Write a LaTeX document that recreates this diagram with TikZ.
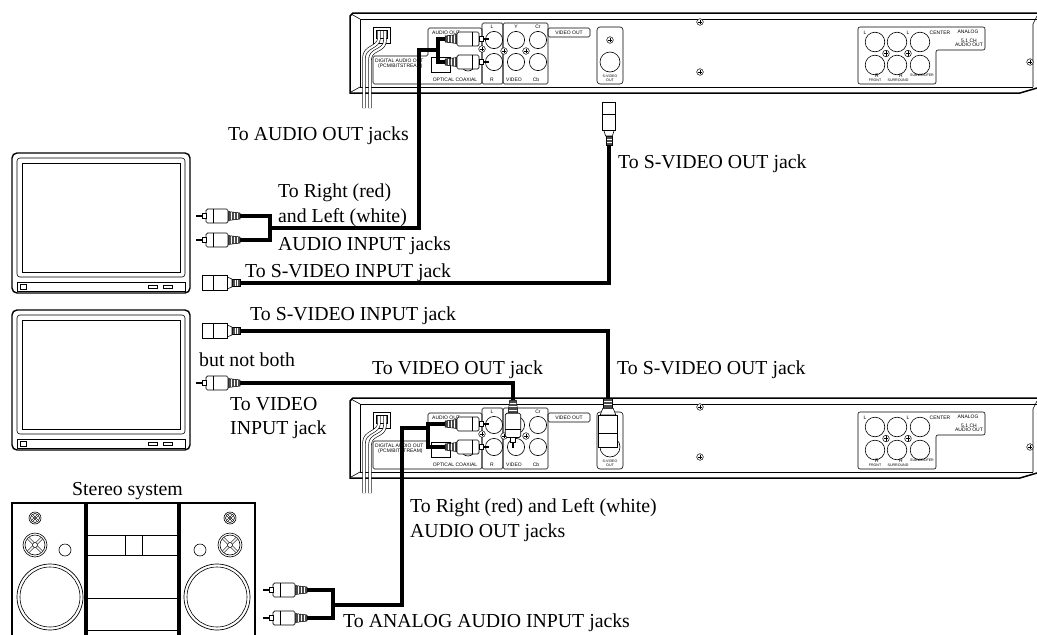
\documentclass[tikz,border=0pt]{standalone}
\usepackage{fontspec}
\setmainfont{Liberation Serif}
\newfontfamily\labfont{Liberation Sans}
\newcommand\drawplayer{%
  % body frame
  \draw[line width=1.5pt] (1037,13) -- (353,13) -- (350,16) -- (350,93) -- (1020,93) -- (1037,88);
  \draw[thinl] (1037,19) -- (360,19) -- (360,87) -- (1033,87);
  \draw[thinl] (351,14) -- (360,19) (351,92) -- (360,87);
  \draw[thinl] (1037,16) -- (1033,24) -- (1033,87);
  % power inlet and cord
  \draw[thinl] (373,27) rectangle (390,43);
  \draw[thinl] (376,30) rectangle (387,38);
  \draw[line width=0.6pt,double distance=2.2pt] (379,31) -- (379,38) .. controls (379,48) and (364,46) .. (364,58) -- (364,108);
  \draw[line width=0.6pt,double distance=2.2pt] (385,31) -- (385,40) .. controls (385,52) and (370,48) .. (370,60) -- (370,108);
  % digital / audio panel
  \draw[thinl,rounded corners=1.5] (373,56) -- (428,56) -- (428,28) -- (482,28) -- (482,84) -- (373,84) -- cycle;
  \draw[thinl] (431,57) rectangle (450,72);
  \draw[thinl] (468,64) circle (7);
  \node[lab,anchor=west] at (432,32.5) {AUDIO OUT};
  \node[lab,anchor=west] at (375,60.5) {DIGITAL AUDIO OUT};
  \node[lab,anchor=west] at (378,66) {(PCM/BITSTREAM)};
  \node[lab] at (455,80) {OPTICAL COAXIAL};
  % L/R and video panels
  \draw[thinl,rounded corners=1.5] (482,23) rectangle (503,84);
  \draw[thinl,rounded corners=1.5] (503,23) rectangle (548,84);
  \draw[thinl,rounded corners=1.5] (548,28) rectangle (590,37);
  \node[lab] at (569,32.5) {VIDEO OUT};
  \foreach \p in {(494,40),(494,62),(516,40),(538,40),(516,62),(538,62)} \draw[thinl] \p circle (8.6);
  \pic at (482,49) {screw}; \pic at (504,51) {screw}; \pic at (526,51) {screw};
  \node[lab] at (492,26.5) {L};
  \node[lab] at (516,26.5) {Y};
  \node[lab] at (538,26.5) {Cr};
  \node[lab] at (492,79.5) {R};
  \node[lab] at (514,79.5) {VIDEO};
  \node[lab] at (536,79.5) {Cb};
  % S-video
  \draw[thinl,rounded corners=3] (597,27) rectangle (623,84);
  \pic at (610,40) {screw};
  \draw[thinl] (610,62) circle (10);
  \node[tinylab] at (610,76.5) {S-VIDEO};
  \node[tinylab] at (610,79.8) {OUT};
  % panel screws
  \pic at (700,22) {screw}; \pic at (700,72) {screw}; \pic at (1030,62) {screw};
  % analog 5.1 panel
  \draw[thinl,rounded corners=2] (858,27) -- (985,27) -- (985,50) -- (936,50) -- (936,84) -- (858,84) -- cycle;
  \foreach \p in {(875,42),(897,42),(920,42),(875,65),(897,65),(920,65)} \draw[thinl] \p circle (9.8);
  \pic at (886,53.5) {screw}; \pic at (908,53.5) {screw};
  \node[lab] at (865,33) {L};
  \node[lab] at (908,33) {L};
  \node[lab] at (940,33) {CENTER};
  \node[lab] at (968,32) {ANALOG};
  \node[lab] at (969,40.5) {5.1 CH};
  \node[lab] at (969,45) {AUDIO OUT};
  \node[lab] at (877,75.5) {R};
  \node[lab] at (901,75.5) {R};
  \node[tinylab] at (875,80.5) {FRONT};
  \node[tinylab] at (898,80.5) {SURROUND};
  \node[tinylab] at (922,75.5) {SUBWOOFER};
}
\newcommand\drawtv{%
  \draw[line width=1.4pt,rounded corners=5] (12,153) rectangle (190,293);
  \draw[thinl,rounded corners=3] (17,158) rectangle (185,277);
  \draw[thinl] (22,163) rectangle (180,272);
  \draw[thinl] (17,282) rectangle (185,291);
  \draw[thinl] (20,284) rectangle (26,289);
  \draw[thinl] (148,285) rectangle (157,288);
  \draw[thinl] (163,285) rectangle (172,288);
}
\begin{document}
\begin{tikzpicture}[x=1pt,y=-1pt,line join=miter,
  cable/.style={line width=3.6pt},
  txt/.style={anchor=base west,inner sep=0pt,font=\fontsize{19.8}{22}\selectfont},
  lab/.style={inner sep=0pt,font=\labfont\fontsize{5}{5.5}\selectfont},
  tinylab/.style={inner sep=0pt,font=\labfont\fontsize{3.6}{3.8}\selectfont},
  thinl/.style={line width=0.6pt},
  screw/.pic={\draw[line width=0.5pt,fill=white] (0,0) circle (3.3);
              \draw[line width=0.6pt] (-2.3,0) -- (2.3,0) (0,-2.3) -- (0,2.3);},
  rca/.pic={\fill[black!70] (0,-3) -- (12,-4.5) -- (12,4.5) -- (0,3) -- cycle;
            \draw[white,line width=0.6pt] (3,-3.3) -- (3,3.3) (6,-3.7) -- (6,3.7) (9,-4) -- (9,4);
            \draw[line width=0.5pt] (0,-3) -- (12,-4.5) -- (12,4.5) -- (0,3) -- cycle;
            \draw[line width=0.7pt,fill=white,rounded corners=1.5] (12,-7) rectangle (34,7);
            \draw[line width=0.6pt] (27,-7) -- (27,7);
            \draw[line width=0.6pt,fill=white] (34,-2.5) rectangle (38,2.5);
            \draw[line width=1.1pt] (38,0) -- (44,0);},
  svid/.pic={\fill[black!70] (0,-3.5) rectangle (8,3.5);
             \draw[white,line width=0.6pt] (2.5,-3.5) -- (2.5,3.5) (5,-3.5) -- (5,3.5);
             \draw[line width=0.5pt] (0,-3.5) rectangle (8,3.5);
             \draw[line width=0.6pt,fill=white] (8,-4) -- (13,-6) -- (13,6) -- (8,4) -- cycle;
             \draw[line width=0.7pt,fill=white] (13,-7.5) rectangle (38,7.5);
             \draw[line width=0.6pt] (27,-7.5) -- (27,7.5);},
  drv/.pic={\draw[line width=0.6pt] (0,0) circle (12); \draw[line width=0.6pt] (0,0) circle (10);
            \draw[line width=0.5pt,double distance=1.6pt] (45:9.5) -- (225:9.5) (135:9.5) -- (315:9.5);
            \draw[line width=0.5pt,fill=white] (0,0) circle (2.5);},
  twt/.pic={\draw[line width=0.6pt] (0,0) circle (6); \draw[line width=0.6pt] (0,0) circle (4.5);
            \draw[line width=0.4pt,double distance=1pt] (45:4.2) -- (225:4.2) (135:4.2) -- (315:4.2);
            \draw[line width=0.4pt,fill=white] (0,0) circle (1.2);}]
\useasboundingbox (0,0) rectangle (1037,635);

% ---- DVD players ----
\begin{scope}\drawplayer\end{scope}
\begin{scope}[shift={(0,385)}]\drawplayer\end{scope}

% ---- TVs ----
\begin{scope}\drawtv\end{scope}
\begin{scope}[shift={(0,157)}]\drawtv\end{scope}

% ---- stereo system ----
\draw[line width=1.3pt] (12,640) -- (12,503) -- (85,503) -- (85,640);
\draw[line width=1.3pt] (87,640) -- (87,503) -- (178,503) -- (178,640);
\draw[line width=1.3pt] (180,640) -- (180,503) -- (255,503) -- (255,640);
\draw[thinl] (87,535) -- (178,535) (87,555) -- (178,555) (125,535) -- (125,555) (142,535) -- (142,555)
             (87,598) -- (178,598) (87,630) -- (178,630);
\pic at (35,518) {twt}; \pic at (35,545) {drv}; \draw[thinl] (65,550) circle (6);
\draw[line width=0.7pt] (50,597) circle (33); \draw[thinl] (50,597) circle (30);
\pic at (230,518) {twt}; \pic at (230,545) {drv}; \draw[thinl] (200,550) circle (6);
\draw[line width=0.7pt] (217,597) circle (33); \draw[thinl] (217,597) circle (30);

% ---- plug coordinates ----
\coordinate (tv1r) at (240,216); \coordinate (tv1l) at (240,240); \coordinate (tv1s) at (240,283);
\coordinate (tv2s) at (240,331); \coordinate (tv2v) at (240,383);
\coordinate (st1) at (307,590);  \coordinate (st2) at (307,618);
\coordinate (pa1) at (445,39);   \coordinate (pa2) at (445,62);   \coordinate (ps1) at (609,145);
\coordinate (pb1) at (445,424);  \coordinate (pb2) at (445,447);
\coordinate (pbv) at (513,400);  \coordinate (pbs) at (608,398);

% ---- cables ----
\draw[cable] (tv1r) -- (270,216) -- (270,240) -- (tv1l);
\draw[cable] (pa1) -- (438,39) -- (438,62) -- (pa2);
\draw[cable] (270,228) -- (419,228) -- (419,50) -- (438,50);
\draw[cable] (tv1s) -| (ps1);
\draw[cable] (tv2s) -| (pbs);
\draw[cable] (tv2v) -| (pbv);
\draw[cable] (pb1) -- (428,424) -- (428,447) -- (pb2);
\draw[cable] (428,428) -- (402,428) -- (402,605) -- (333,605);
\draw[cable] (st1) -- (333,590) -- (333,618) -- (st2);

% ---- plugs ----
\pic[rotate=180] at (tv1r) {rca}; \pic[rotate=180] at (tv1l) {rca};
\pic[rotate=180] at (tv1s) {svid};
\pic[rotate=180] at (tv2s) {svid}; \pic[rotate=180] at (tv2v) {rca};
\pic[rotate=180] at (st1) {rca}; \pic[rotate=180] at (st2) {rca};
\pic at (pa1) {rca}; \pic at (pa2) {rca};
\pic at (pb1) {rca}; \pic at (pb2) {rca};
\pic[rotate=90,xscale=1.12,yscale=0.85] at (ps1) {svid};
\pic[rotate=-90,scale=1.1] at (pbv) {rca};
\pic[rotate=-90,scale=1.3] at (pbs) {svid};

% ---- texts ----
\node[txt] (t1) at (228,140) {To AUDIO OUT jacks};
\node[txt] (t2) at (618,168) {To S-VIDEO OUT jack};
\node[txt] (t3) at (278,197.5) {To Right (red)};
\node[txt] (t4) at (278,222.5) {and Left (white)};
\node[txt] (t5) at (278,250.8) {AUDIO INPUT jacks};
\node[txt] (t6) at (245,277.5) {To S-VIDEO INPUT jack};
\node[txt] (t7) at (250,320.8) {To S-VIDEO INPUT jack};
\node[txt] (t8) at (199,366) {but not both};
\node[txt] (t9) at (372,374.2) {To VIDEO OUT jack};
\node[txt] (t10) at (617,374.2) {To S-VIDEO OUT jack};
\node[txt] (t11) at (230,410.8) {To VIDEO};
\node[txt] (t12) at (230,434.2) {INPUT jack};
\node[txt] (t13) at (72,495.8) {Stereo system};
\node[txt] (t14) at (410,512.5) {To Right (red) and Left (white)};
\node[txt] (t15) at (410,537.5) {AUDIO OUT jacks};
\node[txt] (t16) at (343,627.5) {To ANALOG AUDIO INPUT jacks};
\end{tikzpicture}
\end{document}
